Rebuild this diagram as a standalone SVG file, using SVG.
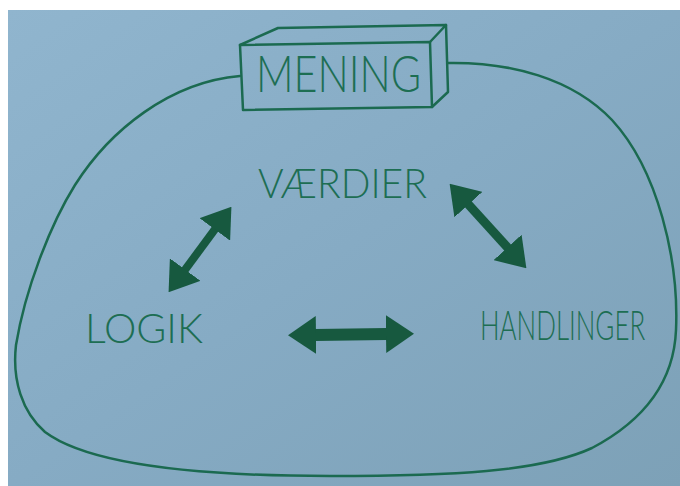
<svg xmlns="http://www.w3.org/2000/svg" width="680" height="486" viewBox="0 0 680 486">
  <defs>
    <linearGradient id="paper" x1="0" y1="0" x2="1" y2="1">
      <stop offset="0" stop-color="#90b5ce"/>
      <stop offset="0.5" stop-color="#86abc4"/>
      <stop offset="1" stop-color="#7da1b7"/>
    </linearGradient>
    <marker id="head" viewBox="0 0 28 38" markerUnits="userSpaceOnUse" markerWidth="28" markerHeight="38" refX="1" refY="19" orient="auto-start-reverse">
      <path d="M0,0 L28,19 L0,38 Z" fill="#17593f"/>
    </marker>
  </defs>
  <style>
    .ink { fill: none; stroke: #1b6a50; stroke-width: 2.5; stroke-linejoin: round; stroke-linecap: round; }
    .lbl { font-family: "Lato", "Open Sans", "Liberation Sans", sans-serif; fill: #1d6e53; font-weight: 300; }
    .arrow { fill: none; stroke: #17593f; stroke-linecap: butt; marker-start: url(#head); marker-end: url(#head); }
  </style>

  <rect x="0" y="0" width="680" height="486" fill="#ffffff"/>
  <rect x="8" y="10" width="672" height="476" fill="url(#paper)"/>

  <g id="outline">
    <path class="ink" d="M 240 76 C 170 82, 110 130, 75 185 C 50 225, 25 290, 16 345 C 12 380, 22 412, 45 432 C 85 462, 180 476, 330 476 C 450 476, 540 472, 592 448 C 645 420, 674 380, 676 330 C 679 260, 658 170, 612 120 C 572 78, 510 62, 448 63"/>
  </g>

  <g id="node-mening">
    <polygon class="ink" points="240,45 430,42 432,107 243,110"/>
    <polyline class="ink" points="240,45 278,28 446,25 430,42"/>
    <polyline class="ink" points="446,25 448,92 432,107"/>
    <text class="lbl" x="256" y="92" font-size="52" textLength="165" lengthAdjust="spacingAndGlyphs">MENING</text>
  </g>

  <g id="node-vaerdier">
    <text class="lbl" x="258" y="198" font-size="42" textLength="169" lengthAdjust="spacingAndGlyphs">VÆRDIER</text>
  </g>

  <g id="node-logik">
    <text class="lbl" x="85" y="343" font-size="42" textLength="118" lengthAdjust="spacingAndGlyphs">LOGIK</text>
  </g>

  <g id="node-handlinger">
    <text class="lbl" transform="translate(480 340) scale(0.7 1)" x="0" y="0" font-size="42" textLength="236" lengthAdjust="spacingAndGlyphs">HANDLINGER</text>
  </g>

  <g id="connectors">
    <line class="arrow" stroke-width="8" x1="184.6" y1="270.4" x2="215.4" y2="228.6"/>
    <line class="arrow" stroke-width="9" x1="467.8" y1="203.8" x2="508.2" y2="248.2"/>
    <line class="arrow" stroke-width="12" x1="315" y1="335" x2="387" y2="334"/>
  </g>
</svg>
